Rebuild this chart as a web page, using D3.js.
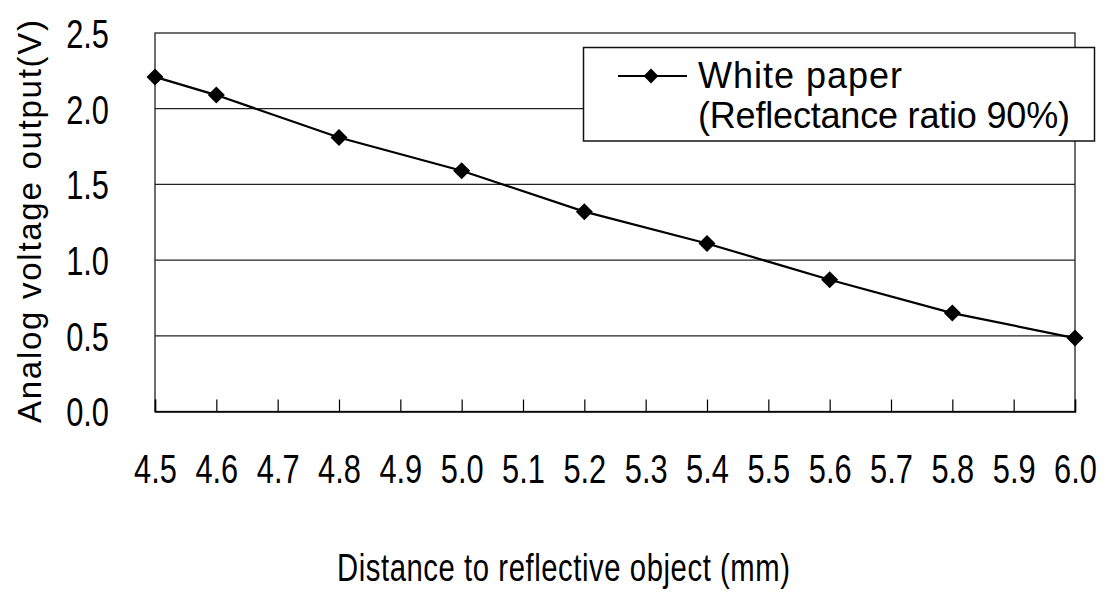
<!DOCTYPE html>
<html>
<head>
<meta charset="utf-8">
<script src="https://cdn.jsdelivr.net/npm/d3@7"></script>
<style>
  html, body { margin: 0; padding: 0; background: #fff; }
  svg { display: block; }
  text { font-family: "Liberation Sans", Arial, sans-serif; fill: #000; }
</style>
</head>
<body>
<svg id="chart" width="1110" height="603"></svg>
<script>
const distances = [4.5, 4.6, 4.8, 5.0, 5.2, 5.4, 5.6, 5.8, 6.0];
const voltages  = [2.21, 2.09, 1.81, 1.59, 1.32, 1.11, 0.87, 0.65, 0.485];
const xTicks = [4.5, 4.6, 4.7, 4.8, 4.9, 5.0, 5.1, 5.2, 5.3, 5.4, 5.5, 5.6, 5.7, 5.8, 5.9, 6.0];
const yTicks = [0.0, 0.5, 1.0, 1.5, 2.0, 2.5];
const seriesName = ["White paper", "(Reflectance ratio 90%)"];
const xTitle = "Distance to reflective object (mm)";
const yTitle = "Analog voltage output(V)";

const svg = d3.select("#chart");
const L = 155, R = 1075, T = 33, B = 411.5;
const SX = 0.77; // horizontal condensing of digits

const x = d3.scaleLinear().domain([4.5, 6.0]).range([L, R]);
const y = d3.scaleLinear().domain([0, 2.5]).range([B, T]);

// gridlines
svg.append("g").selectAll("line").data(yTicks.filter(v => v > 0 && v < 2.5)).join("line")
  .attr("x1", L).attr("x2", R)
  .attr("y1", d => y(d)).attr("y2", d => y(d))
  .attr("stroke", "#222").attr("stroke-width", 1.3);

// plot frame
svg.append("rect").attr("x", L).attr("y", T).attr("width", R - L).attr("height", B - T)
  .attr("fill", "none").attr("stroke", "#222").attr("stroke-width", 1.3);

// x axis (inside ticks)
const xAxis = d3.axisBottom(x).tickValues(xTicks).tickSize(-12).tickPadding(28)
  .tickFormat(d3.format(".1f"));
const gx = svg.append("g").attr("transform", `translate(0,${B})`).call(xAxis);
gx.select(".domain").attr("stroke", "#000").attr("stroke-width", 1.5);
gx.selectAll(".tick line").attr("stroke", "#000").attr("stroke-width", 1.2);
gx.selectAll(".tick text").attr("font-size", 40).attr("font-family", null)
  .attr("dy", "0.71em").attr("y", 43).attr("transform", `scale(${SX},1)`);

// y axis labels
const yAxis = d3.axisLeft(y).tickValues(yTicks).tickSize(0).tickPadding(46)
  .tickFormat(d3.format(".1f"));
const gy = svg.append("g").attr("transform", `translate(${L},0)`).call(yAxis);
gy.select(".domain").remove();
gy.selectAll(".tick text").attr("font-size", 40).attr("font-family", null).attr("dy", "0.36em")
  .attr("x", -46 / SX).attr("transform", `scale(${SX},1)`);

// series line
const line = d3.line().x((d, i) => x(distances[i])).y(d => y(d));
svg.append("path").datum(voltages).attr("d", line)
  .attr("fill", "none").attr("stroke", "#000").attr("stroke-width", 2.2);

// diamonds
const diamond = d3.symbol().type(d3.symbolSquare).size(145);
svg.append("g").selectAll("path").data(voltages).join("path")
  .attr("d", diamond)
  .attr("transform", (d, i) => `translate(${x(distances[i])},${y(d)}) rotate(45)`)
  .attr("fill", "#000");

// legend
const lg = svg.append("g");
lg.append("rect").attr("x", 583.5).attr("y", 47.5).attr("width", 511).attr("height", 93.5)
  .attr("fill", "#fff").attr("stroke", "#111").attr("stroke-width", 1.5);
lg.append("line").attr("x1", 618).attr("x2", 687).attr("y1", 76).attr("y2", 76)
  .attr("stroke", "#000").attr("stroke-width", 2);
lg.append("path").attr("d", d3.symbol().type(d3.symbolSquare).size(110))
  .attr("transform", "translate(651,76) rotate(45)").attr("fill", "#000");
lg.append("text").attr("x", 698).attr("y", 88).attr("font-size", 36)
  .attr("textLength", 204).attr("lengthAdjust", "spacing").text(seriesName[0]);
lg.append("text").attr("x", 698).attr("y", 128).attr("font-size", 36)
  .attr("textLength", 372).attr("lengthAdjust", "spacing").text(seriesName[1]);

// axis titles
svg.append("text").attr("transform", `translate(337,581) scale(${SX},1)`).attr("font-size", 38)
  .attr("textLength", 453 / SX).attr("lengthAdjust", "spacing").text(xTitle);
svg.append("text").attr("transform", "translate(41,423) rotate(-90)").attr("font-size", 33)
  .attr("textLength", 403).attr("lengthAdjust", "spacing").text(yTitle);
</script>
</body>
</html>
